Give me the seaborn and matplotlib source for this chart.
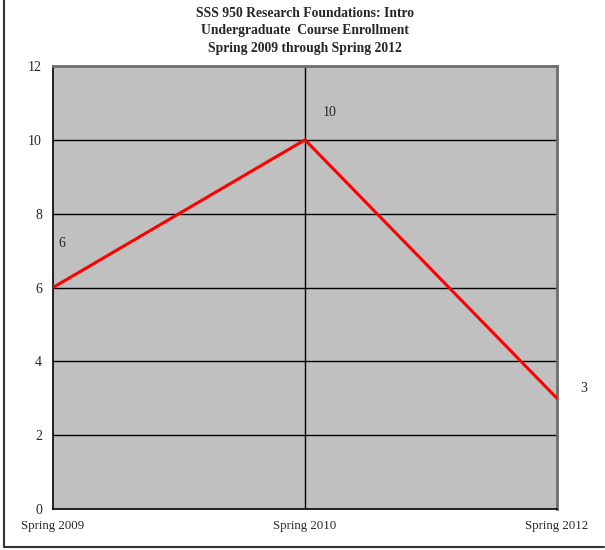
import matplotlib
matplotlib.use('Agg')
import matplotlib.pyplot as plt
import seaborn as sns
import pandas as pd
from matplotlib.lines import Line2D

# Data
terms = ['Spring 2009', 'Spring 2010', 'Spring 2012']
enrollment = [6, 10, 3]
y_ticks = [0, 2, 4, 6, 8, 10, 12]

df = pd.DataFrame({'term': terms, 'enrollment': enrollment})
df['pos'] = range(len(terms))

sns.set_style('white')
plt.rcParams['font.family'] = ['Liberation Serif', 'DejaVu Serif']

fig = plt.figure(figsize=(6.05, 5.5), dpi=100)
ax = fig.add_axes([0.0876, 0.0745, 0.833, 0.8055])
ax.set_facecolor('#C0C0C0')

sns.lineplot(x='pos', y='enrollment', data=df, ax=ax, color='#FF0000', linewidth=2.2, zorder=3)

ax.set_xlim(0, len(terms) - 1)
ax.set_ylim(0, 12)
ax.set_xticks(df['pos'])
ax.set_xticklabels(terms, fontsize=9.3)
ax.set_yticks(y_ticks)
ax.set_yticklabels([str(t) for t in y_ticks], fontsize=10)
ax.set_xlabel('')
ax.set_ylabel('')

# gridlines
for t in y_ticks[1:-1]:
    ax.axhline(t, color='black', linewidth=1, zorder=2)
ax.axvline(1, color='black', linewidth=1, zorder=2)

ax.tick_params(axis='both', direction='out', length=4, width=1, color='black', pad=4)
ax.tick_params(axis='x', pad=4)
for side in ['left', 'bottom']:
    ax.spines[side].set_color('black')
    ax.spines[side].set_linewidth(1.2)
for side in ['top', 'right']:
    ax.spines[side].set_color('#6E6E6E')
    ax.spines[side].set_linewidth(2)

# data labels
offsets = [(6.5, 32), (17.5, 19.5), (19, 7)]
for (p, v), off in zip(zip(df['pos'], df['enrollment']), offsets):
    ax.annotate(str(v), (p, v), xytext=off, textcoords='offset points',
                ha='center', va='center', fontsize=10, annotation_clip=False)

fig.suptitle('SSS 950 Research Foundations: Intro\nUndergraduate  Course Enrollment\nSpring 2009 through Spring 2012',
             x=0.504, y=0.988, fontsize=9.8, fontweight='bold', linespacing=1.47)

# outer chart border
fig.add_artist(Line2D([0.006, 0.006], [0.005, 1.0], transform=fig.transFigure, color='#333333', linewidth=1.5))
fig.add_artist(Line2D([0.006, 0.998], [0.005, 0.005], transform=fig.transFigure, color='#333333', linewidth=1.5))

plt.savefig('out.png', dpi=100)
